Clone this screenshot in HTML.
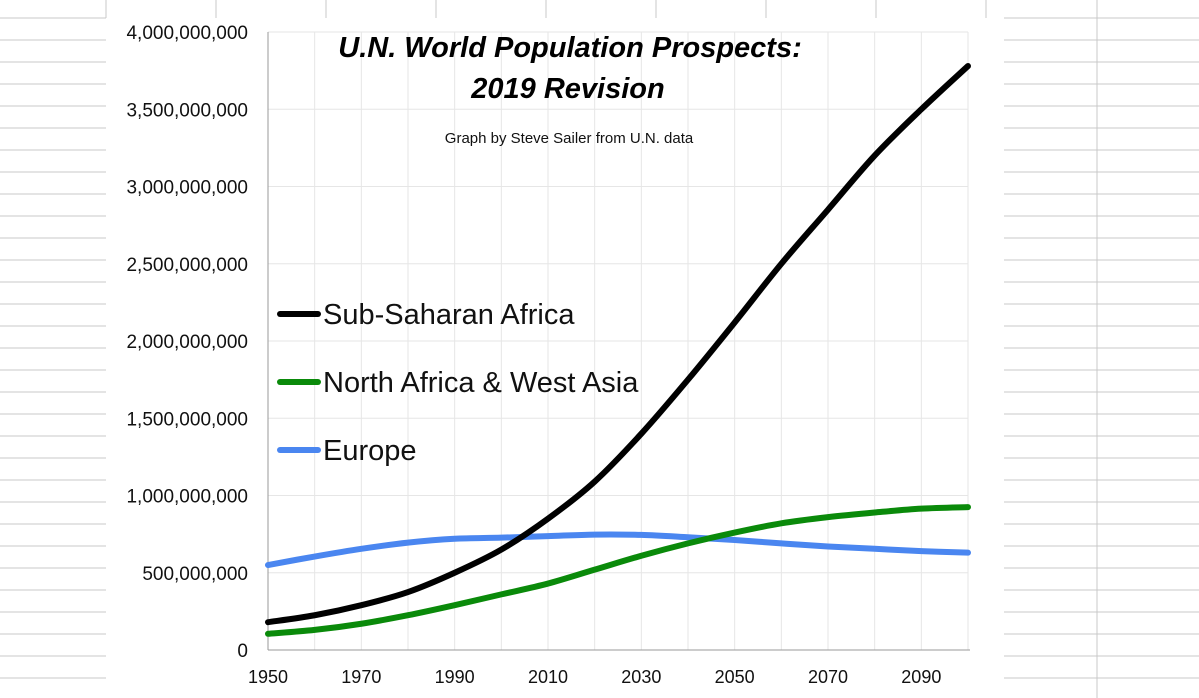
<!DOCTYPE html>
<html><head><meta charset="utf-8"><style>
body{margin:0;background:#fff;width:1199px;height:698px;overflow:hidden}
svg{display:block;font-family:"Liberation Sans",sans-serif}
</style></head><body>
<svg id="c" width="1199" height="698"></svg>
<script>
const years=[1950,1960,1970,1980,1990,2000,2010,2020,2030,2040,2050,2060,2070,2080,2090,2100];
const ssa=[180,225,290,375,500,650,850,1090,1400,1750,2120,2500,2850,3200,3500,3780];
const nawa=[105,130,170,225,290,360,430,520,610,690,760,820,860,890,915,925];
const europe=[550,605,655,695,720,727,737,747,745,730,712,690,670,655,640,630];
const yTicks=[0,500,1000,1500,2000,2500,3000,3500,4000];
const yTickLabels=["0","500,000,000","1,000,000,000","1,500,000,000","2,000,000,000","2,500,000,000","3,000,000,000","3,500,000,000","4,000,000,000"];
const xTicks=[1950,1970,1990,2010,2030,2050,2070,2090];
const NS='http://www.w3.org/2000/svg';
const svg=document.getElementById('c');
const X=y=>268+(y-1950)*700/150;
const Y=v=>650-v*618/4000;
function mk(t,a,p){const e=document.createElementNS(NS,t);for(const k in a)e.setAttribute(k,a[k]);(p||svg).appendChild(e);return e;}
for(let y=18;y<698;y+=22){let l=mk('line',{x1:0,x2:106,y1:y,y2:y,stroke:'#c8c8c8'});
let r=mk('line',{x1:1004,x2:1199,y1:y,y2:y,stroke:'#c8c8c8'});}
for(let x=106;x<1000;x+=110){let l=mk('line',{x1:x,x2:x,y1:0,y2:18,stroke:'#c8c8c8'});}
mk('line',{x1:1097,x2:1097,y1:0,y2:698,stroke:'#c8c8c8'});
for(let yr=1960;yr<=2100;yr+=10){let g=mk('line',{x1:X(yr),x2:X(yr),y1:32,y2:650,stroke:'#e6e6e6'});}
yTicks.forEach((v,i)=>{
 if(v>0){let g=mk('line',{x1:268,x2:968,y1:Y(v),y2:Y(v),stroke:'#e6e6e6'});}
 let t=mk('text',{x:248,y:Y(v)+7,'text-anchor':'end','font-size':19,fill:'#111'});t.textContent=yTickLabels[i];
 
});
xTicks.forEach(yr=>{let t=mk('text',{x:X(yr),y:683,'text-anchor':'middle','font-size':18,fill:'#111'});t.textContent=yr;
 });
let ax=mk('line',{x1:268,x2:268,y1:32,y2:650,stroke:'#999'});
let bx=mk('line',{x1:268,x2:970,y1:650,y2:650,stroke:'#999'});
function path(vals){const p=years.map((y,i)=>[X(y),Y(vals[i])]);let d='M'+p[0];
 for(let i=0;i<p.length-1;i++){const a=p[i-1]||p[i],b=p[i],c=p[i+1],e=p[i+2]||c;
 d+=` C${b[0]+(c[0]-a[0])/6},${b[1]+(c[1]-a[1])/6} ${c[0]-(e[0]-b[0])/6},${c[1]-(e[1]-b[1])/6} ${c[0]},${c[1]}`;}return d;}
[[europe,'#4a86f0','europe-line'],[nawa,'#0a8a0a','north-africa-west-asia-line'],[ssa,'#000','sub-saharan-africa-line']].forEach(s=>{
 let l=mk('path',{d:path(s[0]),fill:'none',stroke:s[1],'stroke-width':6,'stroke-linecap':'round'});
 });
[['Sub-Saharan Africa','#000',314],['North Africa & West Asia','#0a8a0a',382],['Europe','#4a86f0',450]].forEach(e=>{
 let g=mk('g',{});
 mk('line',{x1:280,x2:318,y1:e[2],y2:e[2],stroke:e[1],'stroke-width':6,'stroke-linecap':'round'},g);
 let t=mk('text',{x:323,y:e[2]+10,'font-size':29,fill:'#111',textLength:0},g);t.removeAttribute('textLength');t.textContent=e[0];});
let t1=mk('text',{x:570,y:57,'text-anchor':'middle','font-size':29,'font-weight':'bold','font-style':'italic'});t1.textContent='U.N. World Population Prospects:';

let t2=mk('text',{x:568,y:98,'text-anchor':'middle','font-size':29,'font-weight':'bold','font-style':'italic'});t2.textContent='2019 Revision';

let st=mk('text',{x:569,y:143,'text-anchor':'middle','font-size':15,fill:'#111'});st.textContent='Graph by Steve Sailer from U.N. data';

</script>
</body></html>
